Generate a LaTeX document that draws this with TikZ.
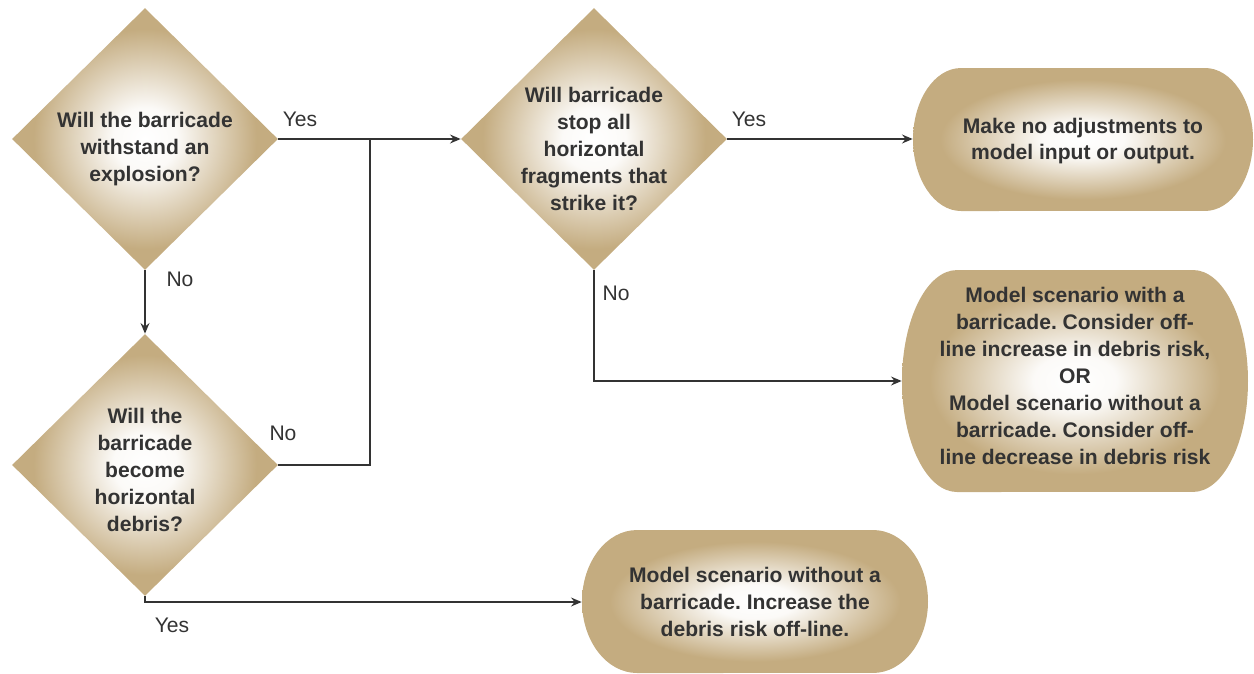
\documentclass[tikz,border=0pt]{standalone}
\usepackage{fontspec}
\setmainfont{Liberation Sans}
\usetikzlibrary{
  arrows.meta,
  shapes,
  positioning
}
\definecolor{tanc}{RGB}{196,172,128}
\definecolor{inkc}{RGB}{51,51,51}
\pgfdeclareradialshading{tanglow}{\pgfpointorigin}{color(0bp)=(white); color(6bp)=(white!94!tanc); color(21bp)=(tanc); color(25bp)=(tanc); color(50bp)=(tanc)}
\tikzset{>={Stealth[length=6pt,width=5pt]}}
\tikzset{
  decision/.style={diamond, shading=tanglow, inner sep=0pt, aspect=1,
    minimum width=5.32cm, minimum height=5.24cm},
  outcome/.style={shading=tanglow},
  qtext/.style={align=center, text=inkc, font=\bfseries\fontsize{12}{15.3}\selectfont},
  flow/.style={draw=inkc, line width=1.1pt},
  answer/.style={text=inkc, font=\fontsize{12}{14}\selectfont}
}
\frenchspacing

\begin{document}
\begin{tikzpicture}[x=0.02cm,y=-0.02cm]
			\useasboundingbox (0,0) rectangle (1254,673);
			% questions
			\node[decision] (q1) at (145,139) {};
			\node[decision] (q2) at (145,465) {};
			\node[decision] (q3) at (594,139) {};
			\node[qtext] (q1t) at (145,149) {Will the barricade\\withstand an\\explosion?};
			\node[qtext] (q2t) at (145,470) {Will the\\barricade\\become\\horizontal\\debris?};
			\node[qtext] (q3t) at (594,149) {Will barricade\\stop all\\horizontal\\fragments that\\strike it?};
			% outcomes, with elliptic ends
			\path[outcome] (961,68) -- (1205,68) arc[start angle=90, end angle=-90, x radius=0.96cm, y radius=1.43cm]
				-- (961,211) arc[start angle=270, end angle=90, x radius=0.96cm, y radius=1.43cm] -- cycle;
			\path[outcome] (957,270) -- (1193,270) arc[start angle=90, end angle=-90, x radius=1.1cm, y radius=2.22cm]
				-- (957,492) arc[start angle=270, end angle=90, x radius=1.1cm, y radius=2.22cm] -- cycle;
			\path[outcome] (637,530) -- (873,530) arc[start angle=90, end angle=-90, x radius=1.1cm, y radius=1.43cm]
				-- (637,673) arc[start angle=270, end angle=90, x radius=1.1cm, y radius=1.43cm] -- cycle;
			\node[qtext, minimum width=6.8cm] (r1) at (1083,141) {Make no adjustments to\\model input or output.};
			\node[qtext, minimum width=6.92cm] (r2) at (1075,376) {Model scenario with a\\barricade. Consider off-\\line increase in debris risk,\\OR\\Model scenario without a\\barricade. Consider off-\\line decrease in debris risk};
			\node[qtext, minimum width=6.92cm] (r3) at (755,602) {Model scenario without a\\barricade. Increase the\\debris risk off-line.};
			% connectors
			\coordinate (j) at (370,139);
			\draw[flow,->] (q1.east) -- (q3.west);
			\draw[flow,->] (q1.south) -- (q2.north);
			\draw[flow] (q2.east) -- (q2.east -| j) -- (j);
			\draw[flow,->] (q3.east) -- (q3.east -| r1.west);
			\draw[flow,->] (q3.south) |- ([yshift=-0.1cm]r2.west);
			\draw[flow,->] (q2.south) |- (r3.west);
			\node[answer] (a1) at (300,119) {Yes};
			\node[answer] (a2) at (180,279) {No};
			\node[answer] (a3) at (283,433) {No};
			\node[answer] (a4) at (749,119) {Yes};
			\node[answer] (a5) at (616,293) {No};
			\node[answer] (a6) at (172,625) {Yes};
		\end{tikzpicture}
\end{document}
